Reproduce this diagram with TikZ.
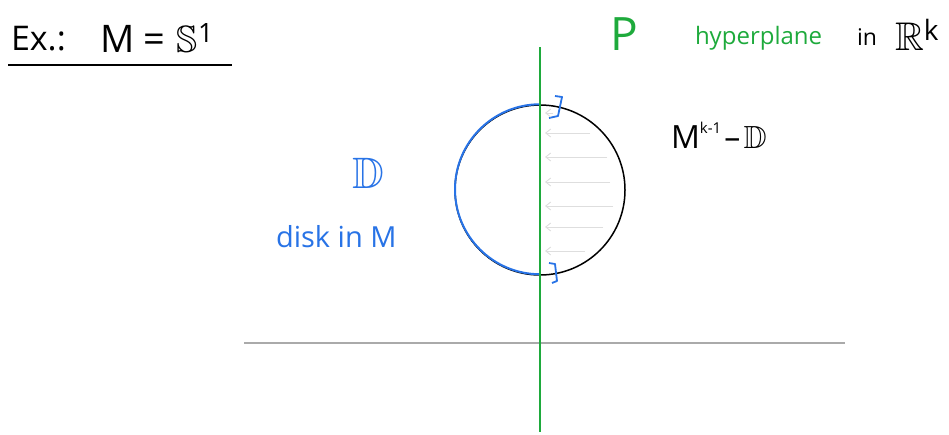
\documentclass[tikz,border=0pt]{standalone}
\usepackage{amsmath}
\usepackage{amssymb}
\usepackage{fontspec}
\setmainfont{Open Sans}
\definecolor{pgreen}{RGB}{30,170,60}
\definecolor{pblue}{RGB}{40,115,230}
\definecolor{lgray}{RGB}{170,170,170}
\definecolor{agray}{RGB}{222,222,222}
\tikzset{
  txt/.style={inner sep=0pt, outer sep=0pt},
  flowarrow/.style={agray, line width=0.9pt, -{Straight Barb[length=5pt,width=8pt]}},
}
\usetikzlibrary{arrows.meta}
\begin{document}
\begin{tikzpicture}[x=1pt,y=-1pt]
\useasboundingbox (0,0) rectangle (949,434);
% title
\node[txt, anchor=base west, font=\fontsize{34}{40}\selectfont] (ex) at (11,50) {Ex.:};
\node[txt, anchor=base west, font=\fontsize{38}{44}\selectfont] (meq) at (100,52) {M\hspace{0.25em}=\hspace{0.3em}$\mathbb{S}^{\text{1}}$};
\coordinate (ulA) at (8,65);
\coordinate (ulB) at (232,65);
\draw[line width=1.6pt] (ulA) -- (ulB);
% axes
\coordinate (gTop) at (540,47);
\coordinate (gBot) at (540,432);
\coordinate (hL) at (244,343);
\coordinate (hR) at (845,343);
\draw[lgray, line width=1.4pt] (hL) -- (hR);
% circle
\node[circle, draw, line width=1.5pt, minimum size=170pt, inner sep=0pt] (c) at (540,190) {};
% blue arc
\draw[pblue, line width=2pt] (c.north) arc[start angle=90, end angle=270, radius=85pt];
\draw[pblue, line width=1.8pt, line join=round] (555,96) -- (562,97) -- (558,116) -- (549,118);
\draw[pblue, line width=1.8pt, line join=round] (549,263) -- (555,264) -- (557,281) -- (552,283);
% green line
\draw[pgreen, line width=1.6pt] (gTop) -- (gBot);
% gray arrows
\foreach \y/\x in {113/553, 133/590, 157/607, 182/610, 206/613, 227/603, 251/585}{
  \draw[flowarrow] (\x,\y) -- (545,\y);
}
% labels
\node[txt, anchor=base west, pgreen, font=\fontsize{46}{50}\selectfont] (P) at (610,50) {P};
\node[txt, anchor=base west, pgreen, font=\fontsize{24}{28}\selectfont] (hyp) at (695,44) {hyperplane};
\node[txt, anchor=base west, font=\fontsize{23}{26}\selectfont] (in) at (857,45) {in};
\node[txt, anchor=base west, font=\fontsize{40}{44}\selectfont] (Rk) at (895,50) {$\mathbb{R}^{\text{k}}$};
\node[txt, anchor=base west, pblue, font=\fontsize{44}{50}\selectfont] (D) at (352,188) {$\mathbb{D}$};
\node[txt, anchor=base west, pblue, font=\fontsize{29}{32}\selectfont] (disk) at (276,247) {disk in M};
\node[txt, anchor=base west, font=\fontsize{32}{36}\selectfont] (mk) at (671,148) {M\raisebox{0.45em}{\fontsize{15}{18}\selectfont k-1}\hspace{0.1em}--\hspace{0.1em}$\mathbb{D}$};
\end{tikzpicture}
\end{document}
